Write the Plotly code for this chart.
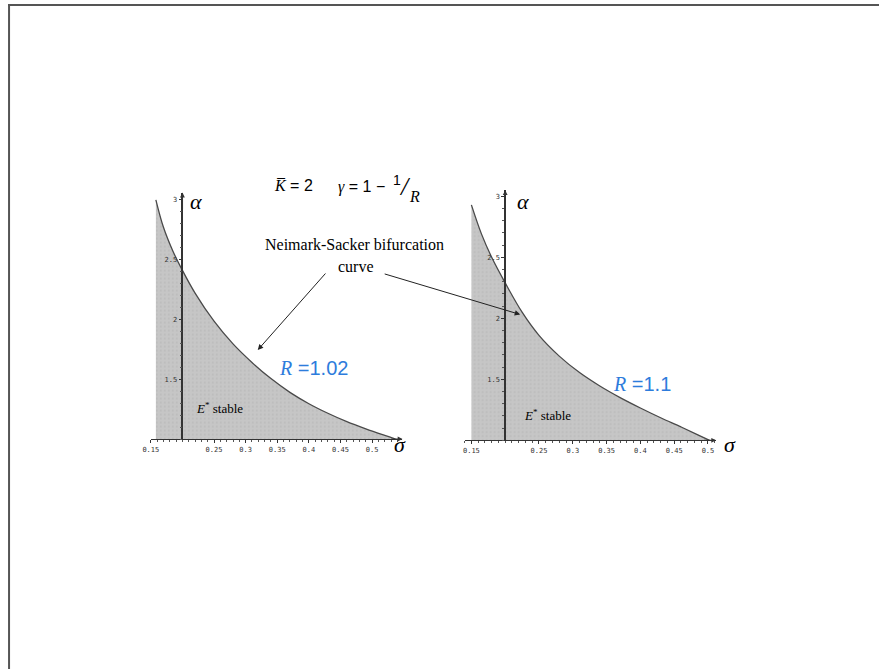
import plotly.graph_objects as go

# ---------------- data ----------------
left_sigma = [0.158, 0.17, 0.185, 0.20, 0.22, 0.25, 0.28, 0.31, 0.34, 0.37,
              0.40, 0.43, 0.46, 0.49, 0.52, 0.537]
left_alpha = [3.00, 2.77, 2.57, 2.41, 2.22, 1.985, 1.795, 1.64, 1.505, 1.39,
              1.295, 1.215, 1.145, 1.085, 1.03, 1.00]

right_sigma = [0.150, 0.165, 0.18, 0.20, 0.225, 0.25, 0.28, 0.31, 0.34, 0.37,
               0.40, 0.43, 0.46, 0.485, 0.5024]
right_alpha = [2.93, 2.69, 2.50, 2.29, 2.05, 1.86, 1.69, 1.555, 1.445, 1.35,
               1.265, 1.185, 1.11, 1.045, 1.00]

x_tickvals = [0.15, 0.25, 0.30, 0.35, 0.40, 0.45, 0.50]
x_ticktext = ["0.15", "0.25", "0.3", "0.35", "0.4", "0.45", "0.5"]
y_tickvals = [1.5, 2.0, 2.5, 3.0]
y_ticktext = ["1.5", "2", "2.5", "3"]

labels_R = ["1.02", "1.1"]

# ---------------- layout helpers ----------------
W, H = 879, 669
# horizontal correction for the way the page is photographed
XOFF, XSCALE = 7.06, 0.9904
def fx(px):
    return max(0.0, ((px - XOFF) / XSCALE) / W)
def fy(py):
    return 1 - py / H

fill_col = "#c6c6c6"
curve_col = "#4a4a4a"
axis_col = "#333333"
blue = "#2d7cdc"
serif = "Liberation Serif"

fig = go.Figure()

def add_region(sig, alp, xa, ya):
    fig.add_trace(go.Scatter(x=sig, y=[1.0] * len(sig), mode="lines",
                             line=dict(width=0, color=fill_col),
                             xaxis=xa, yaxis=ya, showlegend=False, hoverinfo="skip"))
    fig.add_trace(go.Scatter(x=sig, y=alp, mode="lines", fill="tonexty",
                             fillcolor=fill_col,
                             fillpattern=dict(shape=".", bgcolor=fill_col,
                                              fgcolor="#b4b4b4", size=4, solidity=0.25),
                             line=dict(color=curve_col, width=1.3, shape="spline",
                                       smoothing=1.0),
                             xaxis=xa, yaxis=ya, showlegend=False))

add_region(left_sigma, left_alpha, "x", "y")
add_region(right_sigma, right_alpha, "x2", "y2")

tickfont = dict(family="DejaVu Sans Mono", size=7, color="#333333")

def xaxis_cfg(rng, dom, anchor):
    return dict(range=rng, domain=dom, anchor=anchor, showgrid=False, zeroline=False,
                showline=True, linecolor=axis_col, linewidth=1.2,
                tickvals=x_tickvals, ticktext=x_ticktext, tickfont=tickfont,
                ticks="outside", ticklen=3, tickcolor=axis_col, tickwidth=1,
                minor=dict(dtick=0.01, tick0=0, ticks="outside", ticklen=2,
                           tickcolor="#555555", tickwidth=1),
                fixedrange=True)

def yaxis_cfg(rng, dom, pos):
    return dict(range=rng, domain=dom, anchor="free", position=pos, showgrid=False,
                zeroline=False, showline=True, linecolor=axis_col, linewidth=1.6,
                tickvals=y_tickvals, ticktext=y_ticktext, tickfont=tickfont,
                ticks="outside", ticklen=3, tickcolor=axis_col, tickwidth=1,
                minor=dict(dtick=0.1, tick0=0, ticks="outside", ticklen=2,
                           tickcolor="#555555", tickwidth=1),
                fixedrange=True)

# left panel: sigma 0.2 at px 181.4, 632 px/unit ; alpha 1 at py 439, 119.6 px/unit
Lx0, Lx1 = 0.150, 0.548
Ly0, Ly1 = 1.0, 3.06
L_dom_x = [fx(181.4 + (Lx0 - 0.2) * 632), fx(181.4 + (Lx1 - 0.2) * 632)]
L_dom_y = [fy(439), fy(439 - (Ly1 - 1) * 119.6)]
# right panel: sigma 0.2 at px 504, 675.6 px/unit ; alpha 1 at py 440.3, 122 px/unit
Rx0, Rx1 = 0.140, 0.512
Ry0, Ry1 = 1.0, 3.05
R_dom_x = [fx(504 + (Rx0 - 0.2) * 675.6), fx(504 + (Rx1 - 0.2) * 675.6)]
R_dom_y = [fy(440.3), fy(440.3 - (Ry1 - 1) * 122)]

fig.update_layout(
    width=W, height=H, margin=dict(l=0, r=0, t=0, b=0),
    paper_bgcolor="white", plot_bgcolor="rgba(0,0,0,0)",
    xaxis=xaxis_cfg([Lx0, Lx1], L_dom_x, "y"),
    yaxis=yaxis_cfg([Ly0, Ly1], L_dom_y, fx(181.4)),
    xaxis2=xaxis_cfg([Rx0, Rx1], R_dom_x, "y2"),
    yaxis2=yaxis_cfg([Ry0, Ry1], R_dom_y, fx(504)),
    showlegend=False,
)

ann = []
# axis arrowheads
for xr, yr, x1, y1 in [("x", "y", Lx1, Ly1), ("x2", "y2", Rx1, Ry1)]:
    ann.append(dict(xref=xr, yref=yr, axref=xr, ayref=yr, x=x1, y=1.0, ax=x1 - 0.02, ay=1.0,
                    text="", showarrow=True, arrowhead=2, arrowsize=0.8, arrowwidth=1.2,
                    arrowcolor=axis_col))
    ann.append(dict(xref=xr, yref=yr, axref=xr, ayref=yr, x=0.2, y=y1, ax=0.2, ay=y1 - 0.15,
                    text="", showarrow=True, arrowhead=2, arrowsize=0.8, arrowwidth=1.2,
                    arrowcolor=axis_col))

def txt(px, py, text, size, color="black", family=serif, xanchor="center"):
    ann.append(dict(xref="paper", yref="paper", x=fx(px), y=fy(py), text=text,
                    showarrow=False, xanchor=xanchor, yanchor="middle",
                    font=dict(family=family, size=size, color=color)))

# axis symbols
txt(195, 201, "<i>α</i>", 22)
txt(522, 201, "<i>α</i>", 22)
txt(399, 444, "<i>σ</i>", 22)
txt(729, 444, "<i>σ</i>", 22)

# header formula
txt(292, 185, "<i>K\u0305</i><span style='font-family:Liberation Sans'> = 2</span>", 16)
txt(363, 187, "<i>γ</i><span style='font-family:Liberation Sans'> = 1 − </span>", 16)
txt(396, 180, "1", 14, family="Liberation Sans")
txt(404, 186, "<i>/</i>", 26, family="Liberation Serif")
txt(413, 196, "<i>R</i>", 16)

# annotation text
txt(353, 244, "Neimark-Sacker bifurcation", 16)
txt(355, 266, "curve", 16)

# pointing arrows
ann.append(dict(xref="paper", yref="paper", x=fx(256.7), y=fy(350), ax=69, ay=-78,
                text="", showarrow=True, arrowhead=2, arrowsize=1.1, arrowwidth=1,
                arrowcolor="#222222"))
ann.append(dict(xref="paper", yref="paper", x=fx(519), y=fy(314.5), ax=-137, ay=-41,
                text="", showarrow=True, arrowhead=2, arrowsize=1.1, arrowwidth=1,
                arrowcolor="#222222"))

# R labels
txt(312, 368, "<i><span style='font-family:Liberation Serif'>R</span></i> =" + labels_R[0], 20,
    color=blue, family="Liberation Sans")
txt(641, 384, "<i><span style='font-family:Liberation Serif'>R</span></i> =" + labels_R[1], 20,
    color=blue, family="Liberation Sans")

# stable labels
txt(218, 408, "<i>E</i><sup>*</sup> stable", 13)
txt(546, 415, "<i>E</i><sup>*</sup> stable", 13)

fig.update_layout(annotations=ann)

# page frame (top and left border lines)
fig.add_shape(type="line", xref="paper", yref="paper", x0=0, x1=1, y0=fy(5), y1=fy(5),
              line=dict(color="#555555", width=2))
fig.add_shape(type="line", xref="paper", yref="paper", x0=0.0012, x1=0.0012, y0=fy(5), y1=0,
              line=dict(color="#555555", width=2))

fig.write_html(
    "out.html",
    config={"displayModeBar": False},
    post_script=("document.body.style.margin='0';document.body.style.padding='0';"
                 "document.body.style.overflow='hidden';"
                 "var d=document.getElementById('{plot_id}');"
                 "d.style.position='absolute';d.style.left='0px';d.style.top='0px';"),
)
